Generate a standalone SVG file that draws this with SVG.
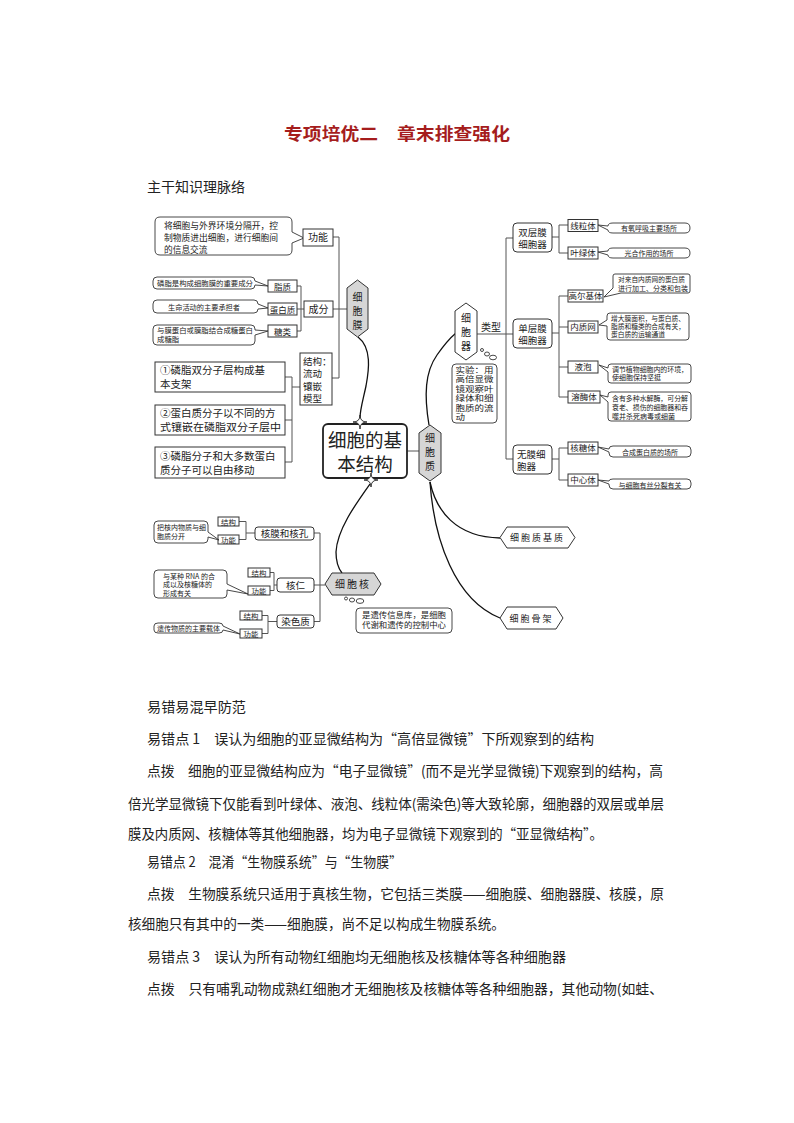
<svg xmlns="http://www.w3.org/2000/svg" width="794" height="1123" viewBox="0 0 794 1123">
<style>
text{font-family:"Noto Sans CJK SC","Noto Sans",sans-serif;fill:#222}
.t{font-size:14px}
.bx{fill:#fff;stroke:#333;stroke-width:1}
.co{fill:#fff;stroke:#333;stroke-width:0.9}
.hg{fill:#d6d6d6;stroke:#333;stroke-width:1}
.hw{fill:#fff;stroke:#333;stroke-width:1}
.ln{fill:none;stroke:#555;stroke-width:1}
.cv{fill:none;stroke:#111;stroke-width:1.3}
.s7{font-size:7px}
.s66{font-size:6.6px}
.s75{font-size:7.4px}
.s85{font-size:8.5px}
.s95{font-size:9.5px}
.s10{font-size:10px}
.ex{font-size:7.9px}
.m{text-anchor:middle}
.star{fill:#fff;stroke:#222;stroke-width:0.9}
</style>
<rect width="794" height="1123" fill="#fff"/>

<text x="397" y="140" class="m" style="font-size:17px;font-weight:bold;fill:#a51d1d" textLength="226" lengthAdjust="spacingAndGlyphs">专项培优二　章末排查强化</text>
<text x="147" y="192" class="t" textLength="98" lengthAdjust="spacingAndGlyphs">主干知识理脉络</text>

<g id="connectors">
<path class="ln" d="M297,286 H301 M297,309 H304 M297,331 H301 M301,286 V331"/>
<path class="ln" d="M333,237 H339 V378 H332 M333,309 H347"/>
<path class="ln" d="M285,377 H292 V462 H285 M285,420 H292 M292,387 H300"/>
<path class="ln" d="M407,451 H419"/>
<path class="ln" d="M477,334 H513 M506,238 V459 M506,238 H513 M506,459 H513"/>
<path class="ln" d="M552,237 H559 M559,225 V253 M559,225 H568 M559,253 H568"/>
<path class="ln" d="M552,333 H559 M559,296 V397 M559,296 H568 M559,327 H568 M559,367 H568 M559,397 H568"/>
<path class="ln" d="M552,459 H559 M559,448 V480 M559,448 H568 M559,480 H568"/>
<path class="ln" d="M314,533 H320 V621.5 H314 M314,585 H325"/>
<path class="ln" d="M239,521.5 H246 V539.5 H239 M246,533 H255"/>
<path class="ln" d="M270,572.5 H274 V590.5 H270 M274,585 H277"/>
<path class="ln" d="M262,615.5 H268 V633.5 H262 M268,621.5 H277"/>
<path class="cv" d="M358,337 C372,348 369,370 366,386 C363,400 360,410 360,418"/>
<path class="cv" d="M429,425 C424,395 425,372 437,355 C444,345 450,338 456,333"/>
<path class="cv" d="M370,484 C355,505 337,530 336,552 C336,562 338,568 342,573"/>
<path class="cv" d="M430,482 C436,510 455,537 500,538"/>
<path class="cv" d="M430,482 C434,540 455,600 500,618"/>
</g>

<g id="membrane">
<path class="co" d="M160,217 H287 Q292,217 292,222 V232 L304,238 L292,243 V250 Q292,255 287,255 H160 Q155,255 155,250 V222 Q155,217 160,217 Z"/>
<text x="164" y="229" style="font-size:8.7px" textLength="114" lengthAdjust="spacingAndGlyphs">将细胞与外界环境分隔开，控</text>
<text x="164" y="241" style="font-size:8.7px" textLength="114" lengthAdjust="spacingAndGlyphs">制物质进出细胞，进行细胞间</text>
<text x="164" y="253" style="font-size:8.7px">的信息交流</text>
<rect class="bx" x="303" y="229" width="30" height="17"/>
<text x="318" y="241" class="s10 m">功能</text>

<path class="co" d="M157,277 H251 Q255,277 255,281 L268,286 L255,285 Q255,289 251,289 H157 Q153,289 153,285 V281 Q153,277 157,277 Z"/>
<text x="157" y="286" class="s75" textLength="96" lengthAdjust="spacingAndGlyphs">磷脂是构成细胞膜的重要成分</text>
<path class="co" d="M157,300 H254 Q258,300 258,304 L268,308 L258,309 Q258,313 254,313 H157 Q153,313 153,309 V304 Q153,300 157,300 Z"/>
<text x="168" y="309.5" class="s75" textLength="72" lengthAdjust="spacingAndGlyphs">生命活动的主要承担者</text>
<path class="co" d="M157,325 H251 Q255,325 255,329 V330 L268,331 L255,335 V341 Q255,345 251,345 H157 Q153,345 153,341 V329 Q153,325 157,325 Z"/>
<text x="157" y="333" class="s75" textLength="96" lengthAdjust="spacingAndGlyphs">与膜蛋白或膜脂结合成糖蛋白</text>
<text x="157" y="342" class="s75">成糖脂</text>

<rect class="bx" x="268" y="280" width="29" height="12"/>
<text x="282.5" y="289.5" class="s85 m">脂质</text>
<rect class="bx" x="268" y="303" width="29" height="12"/>
<text x="282.5" y="312.5" class="s85 m">蛋白质</text>
<rect class="bx" x="268" y="325" width="29" height="12"/>
<text x="282.5" y="334.5" class="s85 m">糖类</text>
<rect class="bx" x="304" y="301" width="29" height="16"/>
<text x="318.5" y="313" class="s10 m">成分</text>

<rect class="bx" x="300" y="353" width="32" height="52"/>
<text x="303" y="364.5" class="s95">结构：</text>
<text x="303" y="377" class="s95">流动</text>
<text x="303" y="389.5" class="s95">镶嵌</text>
<text x="303" y="402" class="s95">模型</text>

<rect class="bx" x="155" y="362" width="130" height="30"/>
<text x="160" y="374" style="font-size:10.5px">①磷脂双分子层构成基</text>
<text x="160" y="388" style="font-size:10.5px">本支架</text>
<rect class="bx" x="155" y="405" width="130" height="30"/>
<text x="160" y="417" style="font-size:10.5px">②蛋白质分子以不同的方</text>
<text x="160" y="431" style="font-size:10.5px" textLength="121" lengthAdjust="spacingAndGlyphs">式镶嵌在磷脂双分子层中</text>
<rect class="bx" x="155" y="447" width="130" height="31"/>
<text x="160" y="459.5" style="font-size:10.5px">③磷脂分子和大多数蛋白</text>
<text x="160" y="473.5" style="font-size:10.5px">质分子可以自由移动</text>

<path class="hg" d="M357.5,280 L368,288 V329 L357.5,337 L347,329 V288 Z"/>
<text x="357.5" y="301" class="s10 m">细</text>
<text x="357.5" y="315" class="s10 m">胞</text>
<text x="357.5" y="329" class="s10 m">膜</text>
</g>

<g id="center">
<rect x="323" y="424" width="84" height="54" rx="5" fill="#fff" stroke="#222" stroke-width="1.8"/>
<text x="365" y="446.5" class="m" style="font-size:18.5px">细胞的基</text>
<text x="365" y="471" class="m" style="font-size:18.5px">本结构</text>
<path class="star" d="M360,415 Q360,422 367,422 Q360,422 360,429 Q360,422 353,422 Q360,422 360,415 Z"/>
<path class="star" d="M371,473 Q371,480 378,480 Q371,480 371,487 Q371,480 364,480 Q371,480 371,473 Z"/>
</g>

<g id="cytoplasm">
<path class="hg" d="M430,425 L441,433 V473 L430,481 L419,473 V433 Z"/>
<text x="430" y="442" class="s10 m">细</text>
<text x="430" y="456" class="s10 m">胞</text>
<text x="430" y="470" class="s10 m">质</text>
<path class="hw" d="M507,527 H568 L575,537.5 L568,548 H507 L500,537.5 Z"/>
<text x="537.5" y="541" class="m" style="font-size:9px;letter-spacing:2px">细胞质基质</text>
<path class="hw" d="M507,607 H556 L563,618 L556,629 H507 L500,618 Z"/>
<text x="531.5" y="621.5" class="m" style="font-size:9px;letter-spacing:2px">细胞骨架</text>
</g>

<g id="organelle">
<path class="hw" d="M466,303 L477,311 V352 L466,360 L455,352 V311 Z"/>
<text x="466" y="322" class="s10 m">细</text>
<text x="466" y="336" class="s10 m">胞</text>
<text x="466" y="350" class="s10 m">器</text>
<text x="481" y="331" class="s10">类型</text>
<circle cx="482" cy="350" r="1.5" class="co"/>
<ellipse cx="487" cy="354" rx="2.5" ry="2" class="co"/>
<ellipse cx="493" cy="357.5" rx="3.5" ry="2.3" class="co"/>
<rect class="co" x="452" y="364" width="45" height="59" rx="4"/>
<text x="455.5" y="372.5" class="ex" textLength="38" lengthAdjust="spacingAndGlyphs">实验：用</text>
<text x="455.5" y="382" class="ex" textLength="38" lengthAdjust="spacingAndGlyphs">高倍显微</text>
<text x="455.5" y="391.5" class="ex" textLength="38" lengthAdjust="spacingAndGlyphs">镜观察叶</text>
<text x="455.5" y="401" class="ex" textLength="38" lengthAdjust="spacingAndGlyphs">绿体和细</text>
<text x="455.5" y="410.5" class="ex" textLength="38" lengthAdjust="spacingAndGlyphs">胞质的流</text>
<text x="455.5" y="420" class="ex" textLength="9.5" lengthAdjust="spacingAndGlyphs">动</text>

<rect class="bx" x="513" y="223" width="39" height="29" rx="4"/>
<text x="532.5" y="235.5" class="s95 m">双层膜</text>
<text x="532.5" y="247.5" class="s95 m">细胞器</text>
<rect class="bx" x="513" y="319" width="39" height="29" rx="4"/>
<text x="532.5" y="331.5" class="s95 m">单层膜</text>
<text x="532.5" y="343.5" class="s95 m">细胞器</text>
<rect class="bx" x="513" y="445" width="39" height="29" rx="4"/>
<text x="517" y="457.5" class="s95">无膜细</text>
<text x="517" y="469.5" class="s95">胞器</text>

<rect class="bx" x="568" y="219.5" width="30" height="12"/>
<text x="583" y="228.5" class="s85 m">线粒体</text>
<rect class="bx" x="568" y="247" width="30" height="12"/>
<text x="583" y="256" class="s85 m">叶绿体</text>
<rect class="bx" x="568" y="290" width="35" height="12"/>
<text x="585.5" y="299" class="s85 m">高尔基体</text>
<rect class="bx" x="568" y="321" width="30" height="12"/>
<text x="583" y="330" class="s85 m">内质网</text>
<rect class="bx" x="568" y="361" width="30" height="12"/>
<text x="583" y="370" class="s85 m">液泡</text>
<rect class="bx" x="568" y="391" width="32" height="12"/>
<text x="584" y="400" class="s85 m">溶酶体</text>
<rect class="bx" x="568" y="442" width="30" height="12"/>
<text x="583" y="451" class="s85 m">核糖体</text>
<rect class="bx" x="568" y="474" width="30" height="12"/>
<text x="583" y="483" class="s85 m">中心体</text>

<path class="co" d="M613,223 H685 Q690,223 690,228 Q690,233 685,233 H613 Q608,233 608,230 L598,225 L608,226 Q608,223 613,223 Z"/>
<text x="649" y="231" class="s7 m">有氧呼吸主要场所</text>
<path class="co" d="M613,248 H685 Q690,248 690,253 Q690,258 685,258 H613 Q608,258 608,255 L598,252 L608,251 Q608,248 613,248 Z"/>
<text x="649" y="256" class="s7 m">光合作用的场所</text>
<path class="co" d="M615,274 H688 Q690,274 690,276 V291 Q690,293 688,293 H621 L604,297 L613,288 V276 Q613,274 615,274 Z"/>
<text x="618" y="282" class="s66" textLength="67" lengthAdjust="spacingAndGlyphs">对来自内质网的蛋白质</text>
<text x="618" y="290.5" class="s66" textLength="70" lengthAdjust="spacingAndGlyphs">进行加工、分类和包装</text>
<path class="co" d="M610,313 H686 Q689,313 689,316 V337 Q689,340 686,340 H610 Q607,340 607,337 V326 L599,325 L607,320 V316 Q607,313 610,313 Z"/>
<text x="611" y="320.5" class="s66" textLength="74" lengthAdjust="spacingAndGlyphs">增大膜面积，与蛋白质、</text>
<text x="611" y="328.5" class="s66" textLength="74" lengthAdjust="spacingAndGlyphs">脂质和糖类的合成有关，</text>
<text x="611" y="336.5" class="s66" textLength="54" lengthAdjust="spacingAndGlyphs">蛋白质的运输通道</text>
<path class="co" d="M611,364 H688 Q691,364 691,367 V380 Q691,383 688,383 H611 Q608,383 608,380 V372 L599,365 L608,368 V367 Q608,364 611,364 Z"/>
<text x="612" y="371.5" class="s7" textLength="76" lengthAdjust="spacingAndGlyphs">调节植物细胞内的环境，</text>
<text x="612" y="380" class="s7">使细胞保持坚挺</text>
<path class="co" d="M611,392 H688 Q691,392 691,395 V418 Q691,421 688,421 H611 Q608,421 608,418 V402 L600,395 L608,397 V395 Q608,392 611,392 Z"/>
<text x="612" y="400.5" class="s7" textLength="76" lengthAdjust="spacingAndGlyphs">含有多种水解酶，可分解</text>
<text x="612" y="409.5" class="s7" textLength="76" lengthAdjust="spacingAndGlyphs">衰老、损伤的细胞器和吞</text>
<text x="612" y="418.5" class="s7">噬并杀死病毒或细菌</text>
<path class="co" d="M613,446 H687 Q691,446 691,450 V453 Q691,457 687,457 H613 Q609,457 609,453 V452 L598,447 L609,449 Q609,446 613,446 Z"/>
<text x="650" y="454.5" class="s7 m">合成蛋白质的场所</text>
<path class="co" d="M613,479 H687 Q691,479 691,483 V485 Q691,489 687,489 H613 Q609,489 609,485 V484 L598,480 L609,481 Q609,479 613,479 Z"/>
<text x="650" y="487.5" class="s7 m">与细胞有丝分裂有关</text>
</g>

<g id="nucleus">
<path class="hg" d="M332,573 H374 L381,584 L374,595 H332 L325,584 Z"/>
<text x="353" y="588" class="m" style="font-size:10px;letter-spacing:2px">细胞核</text>
<circle cx="346" cy="598.5" r="1.5" class="co"/>
<ellipse cx="352" cy="600" rx="2.6" ry="2" class="co"/>
<ellipse cx="360" cy="601" rx="3.8" ry="2.4" class="co"/>
<rect class="co" x="356" y="608" width="96" height="25" rx="4"/>
<text x="404" y="618" class="m" style="font-size:8.2px" textLength="84" lengthAdjust="spacingAndGlyphs">是遗传信息库，是细胞</text>
<text x="404" y="628" class="m" style="font-size:8.2px" textLength="84" lengthAdjust="spacingAndGlyphs">代谢和遗传的控制中心</text>

<rect class="bx" x="255" y="527" width="59" height="13" rx="3"/>
<text x="284.5" y="537" class="m" style="font-size:9.5px">核膜和核孔</text>
<rect class="bx" x="277" y="578" width="37" height="14" rx="3"/>
<text x="295.5" y="588.5" class="m" style="font-size:9.5px">核仁</text>
<rect class="bx" x="277" y="615" width="37" height="13" rx="3"/>
<text x="295.5" y="625" class="m" style="font-size:9.5px">染色质</text>

<rect class="bx" x="218" y="517" width="21" height="9"/>
<text x="228.5" y="524.5" class="s75 m">结构</text>
<rect class="bx" x="218" y="535" width="21" height="9"/>
<text x="228.5" y="542.5" class="s75 m">功能</text>
<rect class="bx" x="248" y="568" width="22" height="9"/>
<text x="259" y="575.5" class="s75 m">结构</text>
<rect class="bx" x="248" y="586" width="22" height="9"/>
<text x="259" y="593.5" class="s75 m">功能</text>
<rect class="bx" x="240" y="611" width="22" height="9"/>
<text x="251" y="618.5" class="s75 m">结构</text>
<rect class="bx" x="240" y="629" width="22" height="9"/>
<text x="251" y="636.5" class="s75 m">功能</text>

<path class="co" d="M158,521 H204 Q208,521 208,525 V532 L219,540 L208,537 V539 Q208,543 204,543 H158 Q154,543 154,539 V525 Q154,521 158,521 Z"/>
<text x="157" y="529.5" class="s7">把核内物质与细</text>
<text x="157" y="538.5" class="s7">胞质分开</text>
<path class="co" d="M158,570 H223 Q227,570 227,574 V584 L248,594 L227,590 V594 Q227,598 223,598 H158 Q154,598 154,594 V574 Q154,570 158,570 Z"/>
<text x="163" y="578.5" class="s7">与某种 RNA 的合</text>
<text x="163" y="587" class="s7">成以及核糖体的</text>
<text x="163" y="595.5" class="s7">形成有关</text>
<path class="co" d="M158,623 H219 Q223,623 223,626 L240,634 L223,630 Q223,633 219,633 H158 Q154,633 154,630 V626 Q154,623 158,623 Z"/>
<text x="157" y="630.5" class="s7">遗传物质的主要载体</text>
</g>

<g id="body">
<text x="147" y="712" class="t" textLength="99" lengthAdjust="spacingAndGlyphs">易错易混早防范</text>
<text x="147" y="744" class="t" textLength="447" lengthAdjust="spacingAndGlyphs">易错点 1　误认为细胞的亚显微结构为“高倍显微镜”下所观察到的结构</text>
<text x="147" y="776" class="t" textLength="516" lengthAdjust="spacingAndGlyphs">点拨　细胞的亚显微结构应为“电子显微镜”(而不是光学显微镜)下观察到的结构，高</text>
<text x="128" y="809" class="t" textLength="536" lengthAdjust="spacingAndGlyphs">倍光学显微镜下仅能看到叶绿体、液泡、线粒体(需染色)等大致轮廓，细胞器的双层或单层</text>
<text x="128" y="839" class="t" textLength="475" lengthAdjust="spacingAndGlyphs">膜及内质网、核糖体等其他细胞器，均为电子显微镜下观察到的“亚显微结构”。</text>
<text x="147" y="867" class="t" textLength="255" lengthAdjust="spacingAndGlyphs">易错点 2　混淆“生物膜系统”与“生物膜”</text>
<text x="147" y="899" class="t" textLength="517" lengthAdjust="spacingAndGlyphs">点拨　生物膜系统只适用于真核生物，它包括三类膜——细胞膜、细胞器膜、核膜，原</text>
<text x="128" y="929" class="t" textLength="377" lengthAdjust="spacingAndGlyphs">核细胞只有其中的一类——细胞膜，尚不足以构成生物膜系统。</text>
<text x="147" y="962" class="t" textLength="419" lengthAdjust="spacingAndGlyphs">易错点 3　误认为所有动物红细胞均无细胞核及核糖体等各种细胞器</text>
<text x="147" y="994" class="t" textLength="516" lengthAdjust="spacingAndGlyphs">点拨　只有哺乳动物成熟红细胞才无细胞核及核糖体等各种细胞器，其他动物(如蛙、</text>
</g>
</svg>
